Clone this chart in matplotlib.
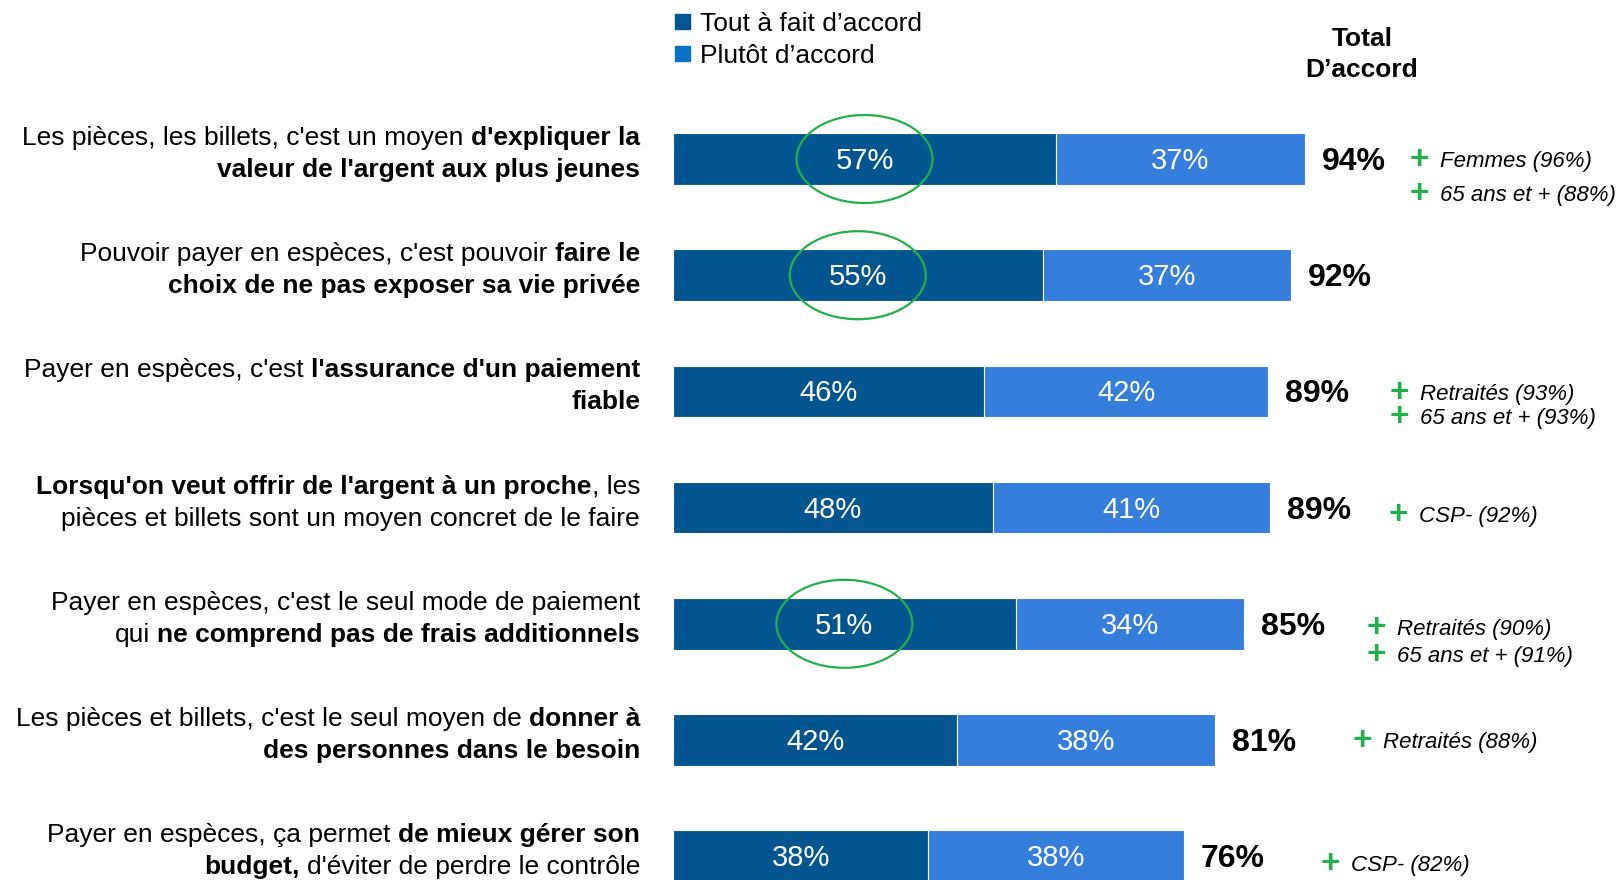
import numpy as np
import matplotlib.pyplot as plt
from matplotlib.patches import Ellipse, Rectangle
from matplotlib.font_manager import FontProperties

plt.rcParams['font.family'] = ['Liberation Sans', 'DejaVu Sans']

# statements: one list of (text, bold) pieces per printed line
statements = [
    [[("Les pièces, les billets, c'est un moyen ", 0), ("d'expliquer la", 1)],
     [("valeur de l'argent aux plus jeunes", 1)]],
    [[("Pouvoir payer en espèces, c'est pouvoir ", 0), ("faire le", 1)],
     [("choix de ne pas exposer sa vie privée", 1)]],
    [[("Payer en espèces, c'est ", 0), ("l'assurance d'un paiement", 1)],
     [("fiable", 1)]],
    [[("Lorsqu'on veut offrir de l'argent à un proche", 1), (", les", 0)],
     [("pièces et billets sont un moyen concret de le faire", 0)]],
    [[("Payer en espèces, c'est le seul mode de paiement", 0)],
     [("qui ", 0), ("ne comprend pas de frais additionnels", 1)]],
    [[("Les pièces et billets, c'est le seul moyen de ", 0), ("donner à", 1)],
     [("des personnes dans le besoin", 1)]],
    [[("Payer en espèces, ça permet ", 0), ("de mieux gérer son", 1)],
     [("budget,", 1), (" d'éviter de perdre le contrôle", 0)]],
]
tout_a_fait = [57, 55, 46.3, 47.6, 51, 42.3, 38]
plutot = [37, 37, 42.3, 41.2, 34, 38.3, 38]
highlight = [True, True, False, False, True, False, False]
notes = [
    ["Femmes (96%)", "65 ans et + (88%)"],
    [],
    ["Retraités (93%)", "65 ans et + (93%)"],
    ["CSP- (92%)"],
    ["Retraités (90%)", "65 ans et + (91%)"],
    ["Retraités (88%)"],
    ["CSP- (82%)"],
]
series_names = ["Tout à fait d’accord", "Plutôt d’accord"]

DARK = '#02558F'
LIGHT = '#357EDB'
LEG_LIGHT = '#0A72C6'
GREEN = '#21B04B'

# layout (pixels)
W, H, DPI = 1617, 880, 100
Y0, STEP = 159, 116.2
LABEL_RIGHT = 640
note_x = [1411, None, 1391, 1390, 1368, 1354, 1322]
note_dy = [(0, 34), (), (1, 25), (6,), (3, 30), (0,), (7,)]

fig = plt.figure(figsize=(W / DPI, H / DPI), dpi=DPI)
lay = fig.add_axes([0, 0, 1, 1])
lay.set_xlim(0, W)
lay.set_ylim(H, 0)
lay.axis('off')

ax = fig.add_axes([673 / W, 0, 672 / W, 1])
ax.set_xlim(0, 100)
ax.set_ylim((H - Y0) / STEP, -Y0 / STEP)
ax.axis('off')

y = np.arange(len(statements))
dark = np.array(tout_a_fait)
light = np.array(plutot)
bh = 51.5 / STEP
ax.barh(y, dark, height=bh, color=DARK, edgecolor='white', linewidth=0.8)
ax.barh(y, light, left=dark, height=bh, color=LIGHT, edgecolor='white', linewidth=0.8)

for i in y:
    ax.annotate(f"{round(dark[i])}%", xy=(dark[i] / 2, i), xytext=(0, -10),
                textcoords='offset pixels', ha='center', va='baseline',
                color='white', fontsize=21)
    ax.annotate(f"{round(light[i])}%", xy=(dark[i] + light[i] / 2, i), xytext=(0, -10),
                textcoords='offset pixels', ha='center', va='baseline',
                color='white', fontsize=21)
    ax.annotate(f"{round(dark[i] + light[i])}%", xy=(dark[i] + light[i], i),
                xytext=(17, -11), textcoords='offset pixels', ha='left',
                va='baseline', fontsize=23, fontweight='bold')
    if highlight[i]:
        ax.add_patch(Ellipse((dark[i] / 2, i), width=136 / 6.72, height=88 / STEP,
                             fill=False, edgecolor=GREEN, linewidth=1.6))

renderer = fig.canvas.get_renderer()
ycoords = (lay.transData, ax.transData)


def metrics(s, size, weight='normal', style='normal'):
    fp = FontProperties(family=plt.rcParams['font.family'], size=size,
                        weight=weight, style=style)
    _, h, d = renderer.get_text_width_height_descent(s, fp, ismath=False)
    return h, d


def stacked_text(lines, x, i, base_dy, gap, size, **kw):
    # one multi-line text whose baselines are 'gap' pixels apart
    lp_h, lp_d = metrics('lp', size, kw.get('fontweight', 'normal'), kw.get('fontstyle', 'normal'))
    hd = []
    for s in lines:
        h, d = metrics(s, size, kw.get('fontweight', 'normal'), kw.get('fontstyle', 'normal'))
        hd.append((max(h, lp_h), max(d, lp_d)))
    asc0 = hd[0][0] - hd[0][1]
    ls = 1.2
    if len(lines) > 1:
        ls = (gap - hd[0][1]) / max(hd[1][0] - hd[1][1], lp_h - lp_d)
    lay.annotate("\n".join(lines), xy=(x, i), xycoords=ycoords,
                 xytext=(0, base_dy + asc0), textcoords='offset pixels',
                 va='top', fontsize=size, linespacing=ls, **kw)


# statement labels with mixed weights, right aligned
LSIZE = 19


def text_width(s, bold):
    t = lay.text(0, 0, s, fontsize=LSIZE, fontweight='bold' if bold else 'normal')
    w = t.get_window_extent(renderer).width
    t.remove()
    return w


space_w = {b: text_width('a a', b) - text_width('aa', b) for b in (0, 1)}

for i, lines in enumerate(statements):
    for k, segs in enumerate(lines):
        dy = 14 if k == 0 else -18
        pieces = []
        x = 0
        for s, b in segs:
            if s.startswith(' '):
                x += space_w[b]
            core = s.strip()
            pieces.append((core, b, x))
            x += text_width(core, b)
            if s.endswith(' '):
                x += space_w[b]
        total = x
        for core, b, x0 in pieces:
            lay.annotate(core, xy=(LABEL_RIGHT, i), xycoords=ycoords,
                         xytext=(x0 - total, dy), textcoords='offset pixels',
                         ha='left', va='baseline', fontsize=LSIZE,
                         fontweight='bold' if b else 'normal')

# sub-group notes
for i, lst in enumerate(notes):
    if not lst:
        continue
    dys = note_dy[i]
    gap = dys[1] - dys[0] if len(lst) > 1 else 0
    stacked_text(['+'] * len(lst), note_x[i] + 8, i, -dys[0] - 10, gap, 24,
                 ha='center', fontweight='bold', color=GREEN)
    stacked_text(lst, note_x[i] + 29, i, -dys[0] - 8, gap, 16,
                 ha='left', fontstyle='italic')

# legend
for k, (name, col) in enumerate(zip(series_names, [DARK, LEG_LIGHT])):
    cy = 21.6 + 32 * k
    lay.add_patch(Rectangle((675, cy - 7.3), 14.5, 14.5, color=col))
    lay.text(700, cy + 9, name, ha='left', va='baseline', fontsize=19)

lay.text(1362, 54.5, "Total\nD’accord", ha='center', va='center',
         fontsize=19, fontweight='bold', linespacing=1.38)

fig.savefig('out.png', dpi=DPI)
